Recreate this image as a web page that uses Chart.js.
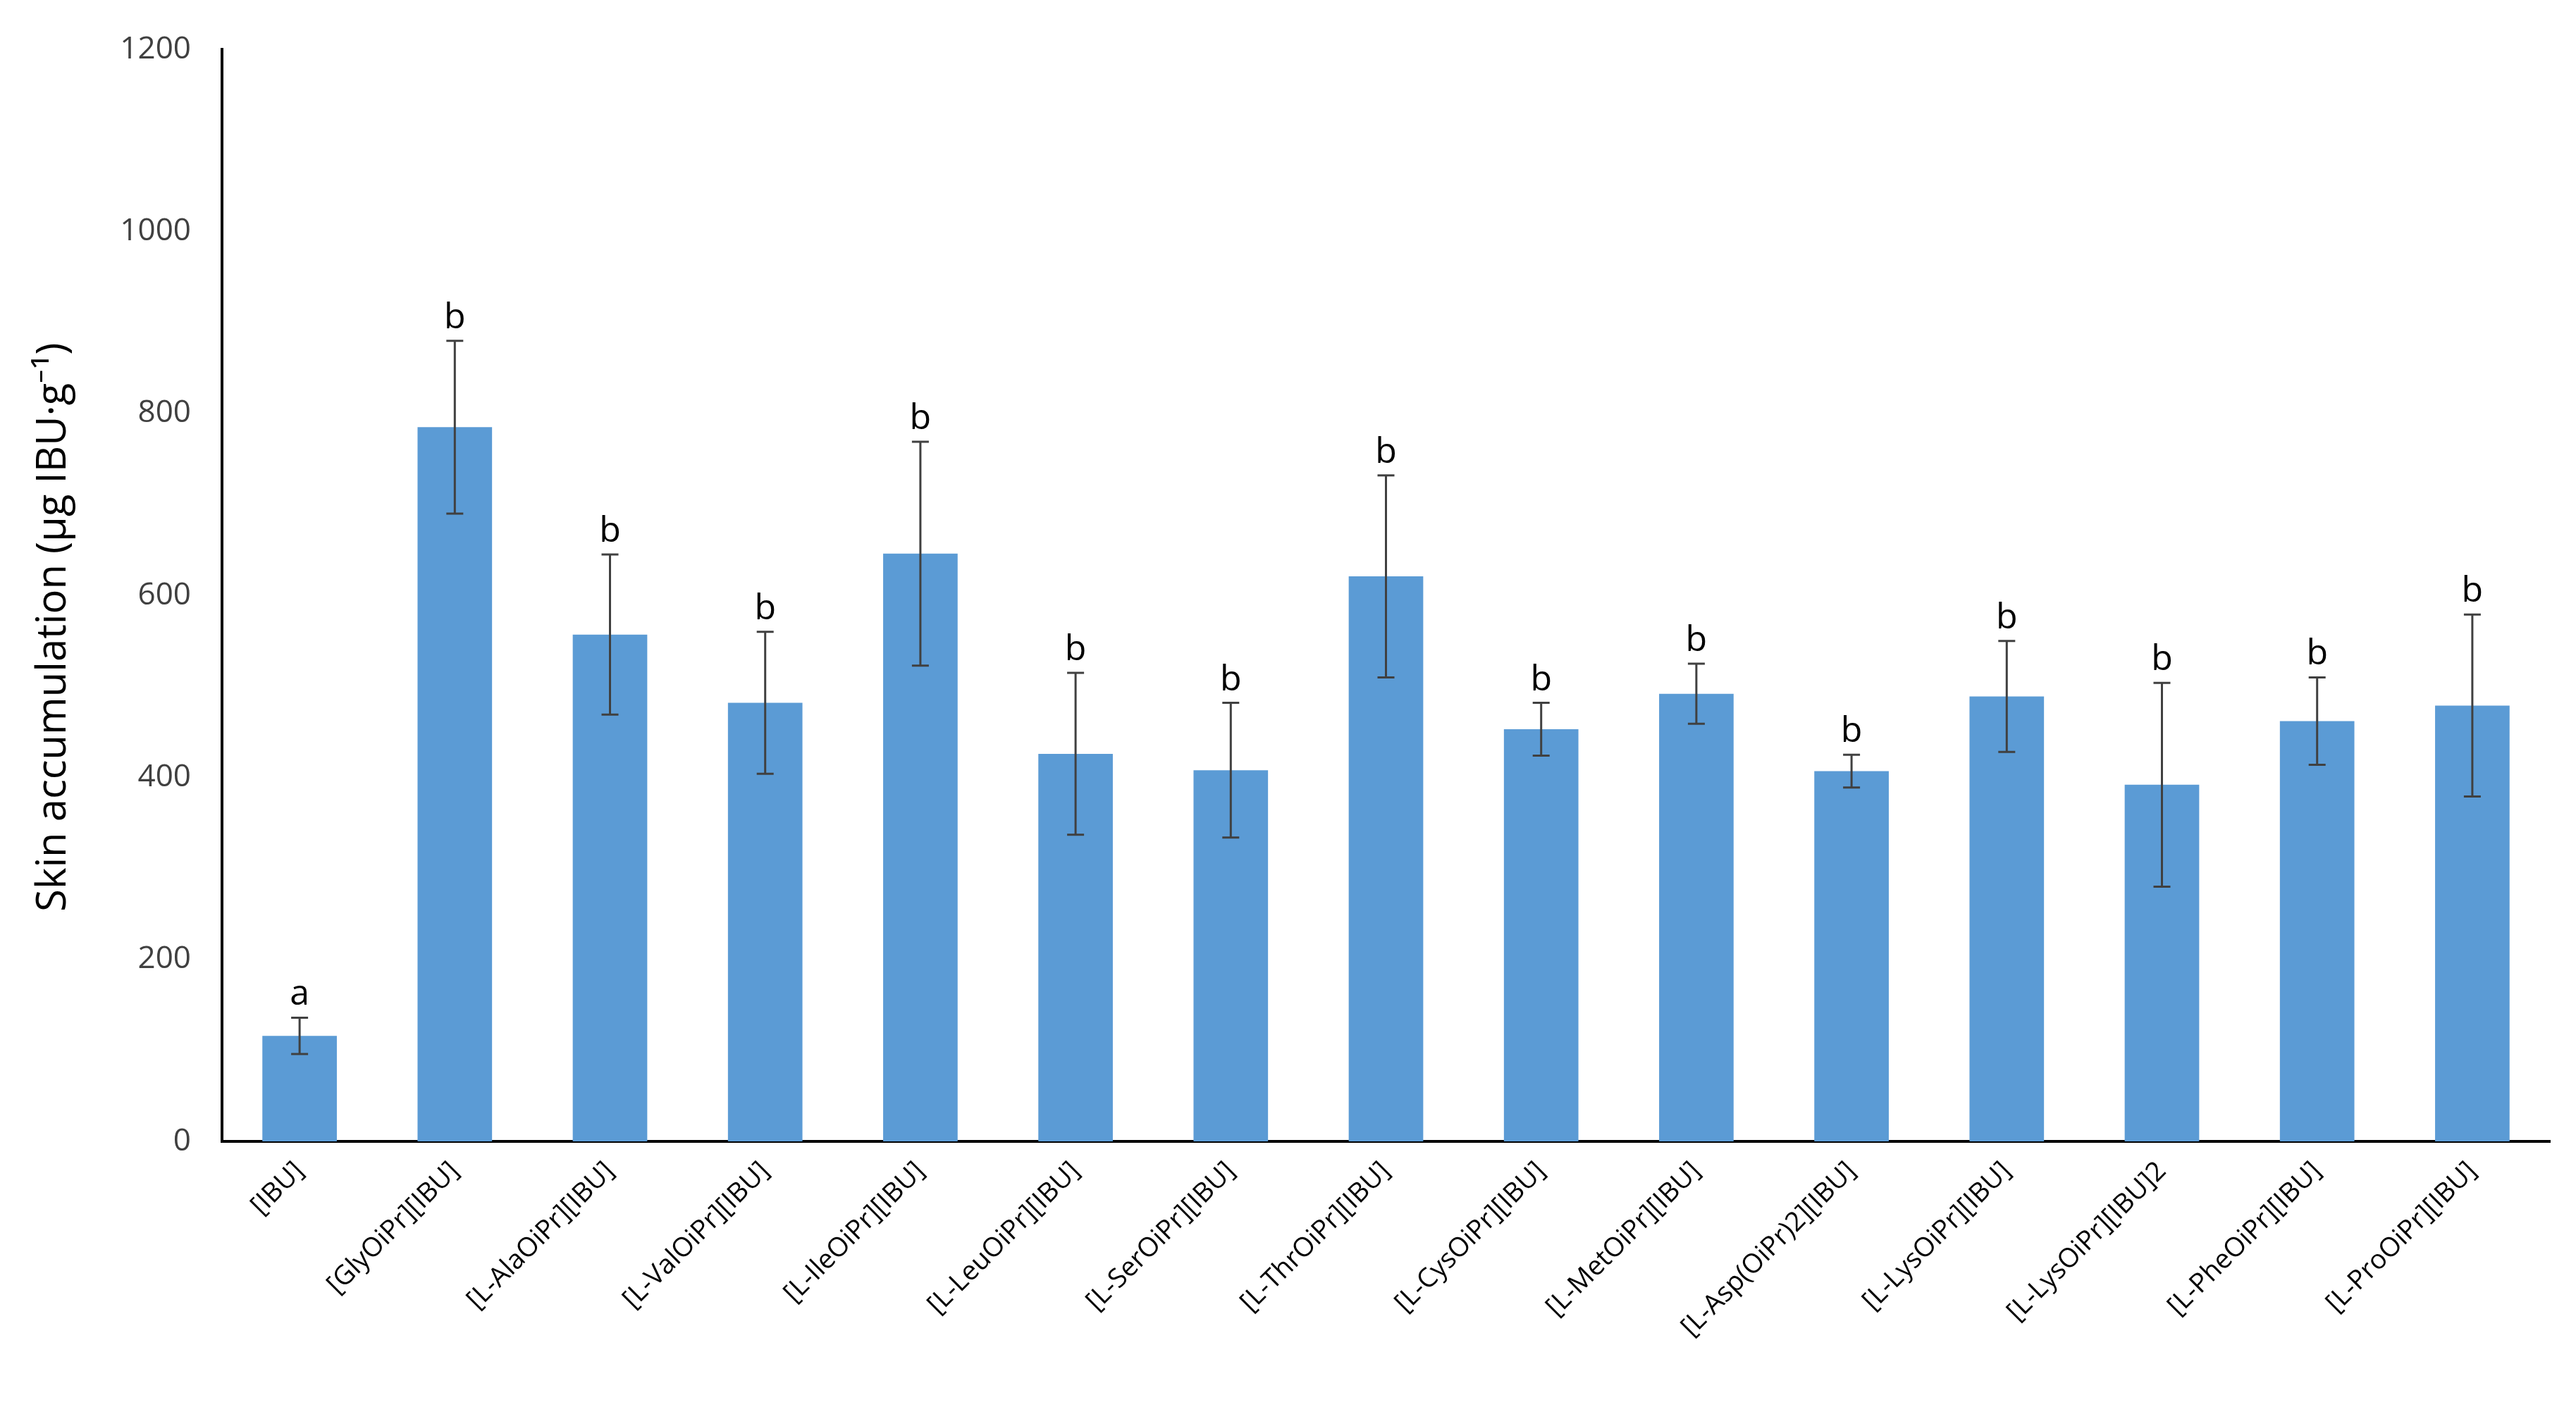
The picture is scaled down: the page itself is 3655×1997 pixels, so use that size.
<!DOCTYPE html>
<html>
<head>
<meta charset="utf-8">
<script src="https://cdn.jsdelivr.net/npm/chart.js@4.4.1/dist/chart.umd.min.js"></script>
<style>
  html, body { margin: 0; padding: 0; background: #fff; }
  #wrap { width: 3655px; height: 1997px; }
</style>
</head>
<body>
<div id="wrap"><canvas id="skinChart" width="3655" height="1997"></canvas></div>
<script>
// values
const categories = ['[IBU]', '[GlyOiPr][IBU]', '[L-AlaOiPr][IBU]', '[L-ValOiPr][IBU]', '[L-IleOiPr][IBU]',
    '[L-LeuOiPr][IBU]', '[L-SerOiPr][IBU]', '[L-ThrOiPr][IBU]', '[L-CysOiPr][IBU]', '[L-MetOiPr][IBU]',
    '[L-Asp(OiPr)2][IBU]', '[L-LysOiPr][IBU]', '[L-LysOiPr][IBU]2', '[L-PheOiPr][IBU]', '[L-ProOiPr][IBU]'];
const accumulation = [116, 785, 557, 482, 646, 426, 408, 621, 453, 492, 407, 489, 392, 462, 479];
const errors = [20, 95, 88, 78, 123, 89, 74, 111, 29, 33, 18, 61, 112, 48, 100];
const letters = ['a', 'b', 'b', 'b', 'b', 'b', 'b', 'b', 'b', 'b', 'b', 'b', 'b', 'b', 'b'];
const yTicks = [0, 200, 400, 600, 800, 1000, 1200];
const yTitle = 'Skin accumulation (µg IBU·g⁻¹)';

// error bars plus the significance letters
const errorBarPlugin = {
    id: 'errorBars',
    afterDatasetsDraw(chart) {
        const ctx = chart.ctx;
        const yScale = chart.scales.y;
        const meta = chart.getDatasetMeta(0);
        ctx.save();
        meta.data.forEach((bar, i) => {
            const top = yScale.getPixelForValue(accumulation[i] + errors[i]);
            const bottom = yScale.getPixelForValue(accumulation[i] - errors[i]);
            ctx.strokeStyle = '#404040';
            ctx.lineWidth = 3;
            ctx.beginPath();
            ctx.moveTo(bar.x, top);
            ctx.lineTo(bar.x, bottom);
            ctx.moveTo(bar.x - 12, top);
            ctx.lineTo(bar.x + 12, top);
            ctx.moveTo(bar.x - 12, bottom);
            ctx.lineTo(bar.x + 12, bottom);
            ctx.stroke();

            ctx.fillStyle = '#000';
            ctx.font = '50px "Open Sans"';
            ctx.textAlign = 'center';
            ctx.textBaseline = 'alphabetic';
            ctx.fillText(letters[i], bar.x, top - 18);
        });
        ctx.restore();
    }
};

// y axis title, drawn by hand so it can sit a little below the middle like the original
const yTitlePlugin = {
    id: 'yTitle',
    afterDraw(chart) {
        const ctx = chart.ctx;
        const area = chart.chartArea;
        ctx.save();
        ctx.translate(76, (area.top + area.bottom) / 2 + 45);
        ctx.rotate(-Math.PI / 2);
        ctx.fillStyle = '#000';
        ctx.font = '58px "Open Sans"';
        ctx.textAlign = 'center';
        ctx.textBaseline = 'middle';
        ctx.fillText(yTitle, 0, 0);
        ctx.restore();
    }
};

const ctx = document.getElementById('skinChart').getContext('2d');
new Chart(ctx, {
    type: 'bar',
    data: {
        labels: categories,
        datasets: [{
            data: accumulation,
            backgroundColor: '#5B9BD5',
            borderWidth: 0,
            categoryPercentage: 1,
            barPercentage: 0.48
        }]
    },
    options: {
        responsive: false,
        animation: false,
        layout: { padding: { left: 20, right: 37, top: 62, bottom: 0 } },
        plugins: {
            legend: { display: false },
            tooltip: { enabled: false }
        },
        scales: {
            x: {
                grid: { display: false, drawTicks: false },
                border: { color: '#000', width: 4 },
                ticks: {
                    color: '#000',
                    font: { family: 'Open Sans', size: 38 },
                    minRotation: 45,
                    maxRotation: 45,
                    padding: 20,
                    autoSkip: false
                },
                afterFit(scale) { scale.height = 377; }
            },
            y: {
                min: 0,
                max: 1200,
                grid: { display: false, drawTicks: false },
                border: { color: '#000', width: 4 },
                afterBuildTicks(scale) { scale.ticks = yTicks.map(v => ({ value: v })); },
                ticks: {
                    color: '#404040',
                    font: { family: 'Open Sans', size: 44 },
                    padding: 44,
                    callback: value => String(value)
                },
                afterFit(scale) { scale.width = 295; }
            }
        }
    },
    plugins: [errorBarPlugin, yTitlePlugin]
});
</script>
</body>
</html>
